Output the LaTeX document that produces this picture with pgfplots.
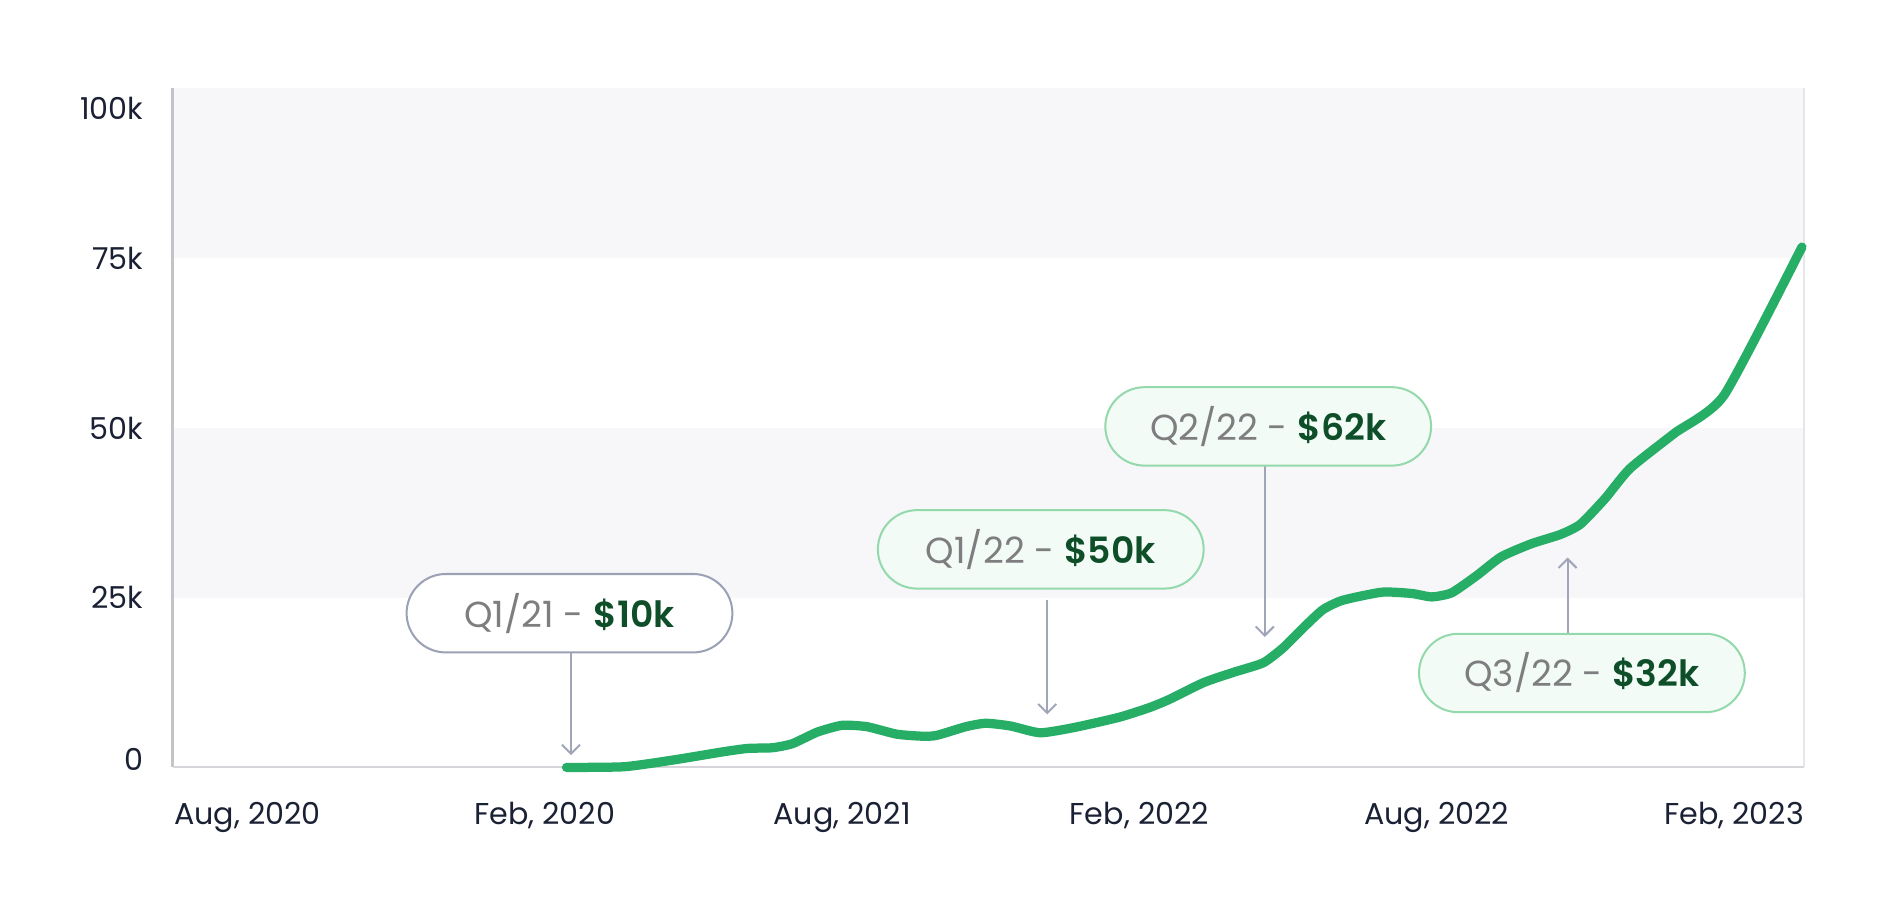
\documentclass[border=0pt]{standalone}
\usepackage{fontspec}
\setmainfont{Poppins}[BoldFont={Poppins SemiBold}]
\usepackage{pgfplots}
\pgfplotsset{compat=1.18}
\usetikzlibrary{arrows.meta}
\definecolor{linegreen}{HTML}{26AD66}
\definecolor{bandgray}{HTML}{F7F7F9}
\definecolor{leftaxis}{HTML}{C4C4C8}
\definecolor{botaxis}{HTML}{D6D6DA}
\definecolor{rightaxis}{HTML}{E6E6E8}
\definecolor{tickcol}{HTML}{1B2134}
\definecolor{arrowcol}{HTML}{A0A5B8}
\definecolor{boxgrayborder}{HTML}{9AA1B5}
\definecolor{boxgreenborder}{HTML}{93D9AC}
\definecolor{boxgreenfill}{HTML}{F2FBF5}
\definecolor{graytext}{HTML}{7E7E80}
\definecolor{valgreen}{HTML}{0E4F2A}
\tikzset{
  callout/.style={draw, line width=1pt, rounded corners=19.5pt, minimum width=162pt,
    minimum height=39pt, inner sep=0pt, font=\fontsize{18}{21}\selectfont},
  pointer/.style={draw=arrowcol, line width=1pt, -{Straight Barb[length=4.5pt,width=9pt]}},
}
\newcommand{\yl}[2]{\raisebox{#1}[0pt][0pt]{#2}}
\begin{document}
\begin{tikzpicture}
\begin{axis}[
  at={(0,0)}, anchor=south west,
  scale only axis, width=811.2pt, height=337.8pt,
  xmin=-1.51, xmax=31.41, ymin=0, ymax=100,
  axis line style={draw=none},
  xtick={0,6,12,18,24,30},
  xticklabels={{Aug, 2020},{Feb, 2020},{Aug, 2021},{Feb, 2022},{Aug, 2022},{Feb, 2023}},
  ytick={0,25,50,75,100},
  yticklabels={\yl{-1.6pt}{0},\yl{-5.6pt}{25k},\yl{-5.6pt}{50k},\yl{-5.8pt}{75k},\yl{-15.4pt}{100k}},
  tick style={draw=none},
  major tick length=0pt,
  ticklabel style={font=\fontsize{15}{18}\selectfont, text=tickcol},
  xticklabel style={anchor=base, inner sep=0pt, yshift=-28.2pt},
  yticklabel style={anchor=east, inner sep=0pt, xshift=-14.4pt},
  /pgf/number format/assume math mode=true,
  clip=false,
]
\fill[bandgray] (axis cs:-1.51,75) rectangle (axis cs:31.41,100);
\fill[bandgray] (axis cs:-1.51,25) rectangle (axis cs:31.41,50);
\draw[leftaxis, line width=1.2pt] (rel axis cs:0,0) -- (rel axis cs:0,1);
\draw[botaxis, line width=1pt] (rel axis cs:0,0) -- (rel axis cs:1,0);
\draw[rightaxis, line width=0.8pt] (rel axis cs:1,0) -- (rel axis cs:1,1);

\addplot[linegreen, line width=4.6pt, line cap=round, line join=round, smooth, tension=0.35] coordinates {
(6.44,0) (7.6,0.1) (8.6,1.1) (9.6,2.3) (10.1,2.8) (10.6,2.9) (11.0,3.5) (11.5,5.2)
(12.0,6.2) (12.5,6.0) (13.1,4.9) (13.6,4.6) (13.9,4.7) (14.5,6.0) (14.9,6.5) (15.4,6.1)
(16.0,5.1) (16.7,5.9) (17.6,7.4) (18.2,8.8) (18.6,10.0) (19.3,12.5) (19.9,14.0) (20.5,15.4)
(20.9,17.6) (21.3,20.5) (21.7,23.2) (22.1,24.6) (22.9,25.8) (23.5,25.6) (23.9,25.1) (24.3,25.7)
(24.8,28.2) (25.3,31.0) (25.9,32.9) (26.5,34.3) (26.9,35.8) (27.4,39.6) (27.9,44.0) (28.8,49.2) (29.8,54.8)
(31.37,76.6)
};

\draw[pointer] (axis cs:6.53,16.9) -- (axis cs:6.53,1.8);
\draw[pointer] (axis cs:16.14,24.7) -- (axis cs:16.14,7.8);
\draw[pointer] (axis cs:20.53,44.6) -- (axis cs:20.53,19.2);
\draw[pointer] (axis cs:26.64,19.7) -- (axis cs:26.64,30.9);

\node[callout, draw=boxgrayborder, fill=white] at (axis cs:6.50,22.7)
  {\textcolor{graytext}{Q1/21 -} \textcolor{valgreen}{\bfseries\$10k}};
\node[callout, draw=boxgreenborder, fill=boxgreenfill] at (axis cs:16.01,32.1)
  {\textcolor{graytext}{Q1/22 -} \textcolor{valgreen}{\bfseries\$50k}};
\node[callout, draw=boxgreenborder, fill=boxgreenfill] at (axis cs:20.6,50.2)
  {\textcolor{graytext}{Q2/22 -} \textcolor{valgreen}{\bfseries\$62k}};
\node[callout, draw=boxgreenborder, fill=boxgreenfill] at (axis cs:26.93,13.9)
  {\textcolor{graytext}{Q3/22 -} \textcolor{valgreen}{\bfseries\$32k}};
\end{axis}
\pgfresetboundingbox
\path[use as bounding box] (-85.8pt,-72pt) rectangle (855pt,381.6pt);
\end{tikzpicture}
\end{document}
